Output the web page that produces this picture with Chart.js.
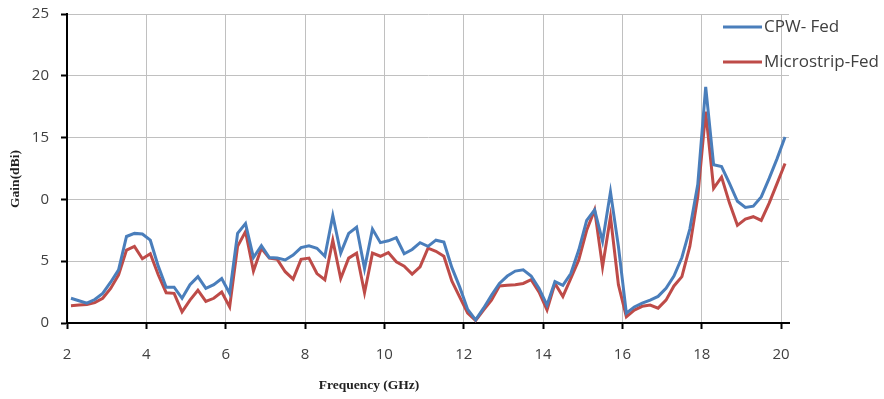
<!DOCTYPE html>
<html>
<head>
<meta charset="utf-8">
<script src="https://cdn.jsdelivr.net/npm/chart.js@4/dist/chart.umd.min.js"></script>
<style>
  html, body { margin: 0; padding: 0; background: #fff; }
  #wrap { width: 884px; height: 399px; }
</style>
</head>
<body>
<div id="wrap"><canvas id="chart_gain"></canvas></div>
<script>
// Frequenze (GHz)
const freqs = [2.1, 2.3, 2.5, 2.7, 2.9, 3.1, 3.3, 3.5, 3.7, 3.9,
  4.1, 4.3, 4.5, 4.7, 4.9, 5.1, 5.3, 5.5, 5.7, 5.9,
  6.1, 6.3, 6.5, 6.7, 6.9, 7.1, 7.3, 7.5, 7.7, 7.9,
  8.1, 8.3, 8.5, 8.7, 8.9, 9.1, 9.3, 9.5, 9.7, 9.9,
  10.1, 10.3, 10.5, 10.7, 10.9, 11.1, 11.3, 11.5, 11.7, 11.9,
  12.1, 12.3, 12.5, 12.7, 12.9, 13.1, 13.3, 13.5, 13.7, 13.9,
  14.1, 14.3, 14.5, 14.7, 14.9, 15.1, 15.3, 15.5, 15.7, 15.9,
  16.1, 16.3, 16.5, 16.7, 16.9, 17.1, 17.3, 17.5, 17.7, 17.9,
  18.1, 18.3, 18.5, 18.7, 18.9, 19.1, 19.3, 19.5, 19.7, 19.9, 20.1];

const cpwGain = [2.0, 1.8, 1.6, 1.9, 2.4, 3.3, 4.3, 7.0, 7.25, 7.2,
  6.7, 4.6, 2.9, 2.9, 2.0, 3.1, 3.75, 2.8, 3.1, 3.6,
  2.4, 7.25, 8.05, 5.3, 6.25, 5.3, 5.25, 5.1, 5.5, 6.1,
  6.25, 6.05, 5.4, 8.7, 5.65, 7.25, 7.75, 4.4, 7.6, 6.5,
  6.65, 6.9, 5.6, 5.95, 6.5, 6.2, 6.7, 6.55, 4.5, 2.9,
  1.1, 0.25, 1.2, 2.25, 3.2, 3.8, 4.2, 4.3, 3.8, 2.8,
  1.45, 3.35, 3.05, 4.0, 5.9, 8.3, 9.15, 6.6, 10.6, 6.2,
  0.8, 1.3, 1.6, 1.85, 2.15, 2.8, 3.8, 5.3, 7.6, 11.2,
  19.1, 12.8, 12.65, 11.3, 9.85, 9.35, 9.45, 10.2, 11.7, 13.3, 15.05];

const microstripGain = [1.4, 1.45, 1.5, 1.65, 2.0, 2.8, 3.9, 5.9, 6.2, 5.2,
  5.6, 3.9, 2.45, 2.4, 0.9, 1.85, 2.65, 1.75, 2.0, 2.5,
  1.3, 6.2, 7.4, 4.2, 6.05, 5.25, 5.15, 4.15, 3.55, 5.15,
  5.25, 4.0, 3.5, 6.7, 3.6, 5.25, 5.65, 2.45, 5.65, 5.4,
  5.7, 4.95, 4.6, 3.95, 4.55, 6.05, 5.8, 5.4, 3.4, 2.1,
  0.8, 0.2, 1.05, 1.85, 3.0, 3.05, 3.1, 3.2, 3.5, 2.5,
  1.05, 3.2, 2.15, 3.6, 5.1, 7.5, 9.15, 4.55, 8.6, 3.1,
  0.5, 1.05, 1.35, 1.45, 1.2, 1.85, 3.0, 3.75, 6.2, 10.2,
  17.1, 10.9, 11.8, 9.7, 7.9, 8.4, 8.6, 8.3, 9.7, 11.3, 12.9];

// etichette dell'asse y come appaiono nell'originale
const yTickLabels = ['0', '5', '0', '15', '20', '25'];

const seriesNames = ['CPW- Fed', 'Microstrip-Fed'];
const seriesColors = ['#4a7ebb', '#be4b48'];

function toPoints(ys) {
  return freqs.map((f, i) => ({ x: f, y: ys[i] }));
}

// legenda e titoli degli assi disegnati a mano
const extras = {
  id: 'extras',
  afterDraw(chart) {
    const ctx = chart.ctx;
    ctx.save();
    // legenda
    ctx.font = '17px "Open Sans"';
    ctx.textBaseline = 'middle';
    ctx.textAlign = 'left';
    chart.data.datasets.forEach((ds, i) => {
      const y = 27 + i * 35;
      ctx.strokeStyle = ds.borderColor;
      ctx.lineWidth = 3;
      ctx.beginPath();
      ctx.moveTo(723, y);
      ctx.lineTo(762, y);
      ctx.stroke();
      ctx.fillStyle = '#404040';
      ctx.fillText(ds.label, 764, y);
    });
    // titoli
    ctx.fillStyle = '#222';
    ctx.font = 'bold 13.5px "Liberation Serif"';
    ctx.textAlign = 'center';
    ctx.fillText('Frequency (GHz)', 369, 386);
    ctx.translate(16, 179);
    ctx.rotate(-Math.PI / 2);
    ctx.fillText('Gain(dBi)', 0, 0);
    ctx.restore();
  }
};

new Chart(document.getElementById('chart_gain'), {
  type: 'line',
  data: {
    datasets: [
      {
        label: seriesNames[0],
        data: toPoints(cpwGain),
        borderColor: seriesColors[0],
        borderWidth: 3,
        pointRadius: 0,
        tension: 0,
      },
      {
        label: seriesNames[1],
        data: toPoints(microstripGain),
        borderColor: seriesColors[1],
        borderWidth: 3,
        pointRadius: 0,
        tension: 0,
      },
    ],
  },
  options: {
    responsive: true,
    maintainAspectRatio: false,
    animation: false,
    layout: { padding: { left: 0, top: 14, right: 95, bottom: 0 } },
    plugins: {
      legend: { display: false },
      tooltip: { enabled: false },
    },
    scales: {
      x: {
        type: 'linear',
        min: 2,
        max: 20.2,
        afterFit(scale) { scale.height = 76; },
        ticks: {
          stepSize: 2,
          includeBounds: false,
          padding: 17,
          color: '#404040',
          font: { family: 'Open Sans', size: 15 },
        },
        grid: { color: '#c0c0c0', lineWidth: 1, tickLength: 6, tickColor: '#000', tickWidth: 2 },
        border: { color: '#000', width: 2 },
      },
      y: {
        min: 0,
        max: 25,
        afterFit(scale) {
          scale.width = 67;
          scale.paddingTop = 0;
          scale.paddingBottom = 0;
        },
        ticks: {
          stepSize: 5,
          padding: 12,
          color: '#404040',
          font: { family: 'Open Sans', size: 15 },
          callback: (v) => yTickLabels[v / 5],
        },
        grid: { color: '#c0c0c0', lineWidth: 1, tickLength: 6, tickColor: '#000', tickWidth: 2 },
        border: { color: '#000', width: 2 },
      },
    },
  },
  plugins: [extras],
});
</script>
</body>
</html>
